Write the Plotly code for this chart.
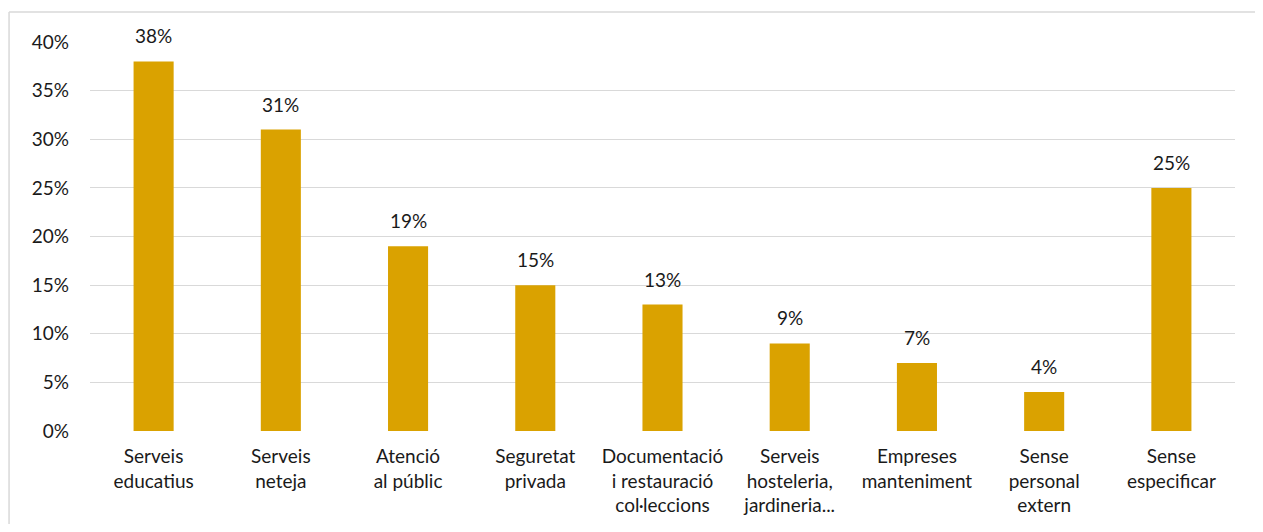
import plotly.graph_objects as go

# categories and shares
categories = [
    "Serveis<br>educatius",
    "Serveis<br>neteja",
    "Atenció<br>al públic",
    "Seguretat<br>privada",
    "Documentació<br>i restauració<br>col·leccions",
    "Serveis<br>hosteleria,<br>jardineria...",
    "Empreses<br>manteniment",
    "Sense<br>personal<br>extern",
    "Sense<br>especificar",
]
shares = [0.38, 0.31, 0.19, 0.15, 0.13, 0.09, 0.07, 0.04, 0.25]
y_ticks = [0, 0.05, 0.10, 0.15, 0.20, 0.25, 0.30, 0.35, 0.40]

bar_color = "#DAA200"
grid_color = "#D9D9D9"
font = dict(family="Lato, 'Open Sans', sans-serif", size=19, color="#1a1a1a")

fig = go.Figure()
fig.add_trace(go.Bar(x=categories, y=shares, marker=dict(color=bar_color, line_width=0),
                     hoverinfo="skip"))

# value labels above each bar
for cat, val in zip(categories, shares):
    fig.add_annotation(x=cat, y=val, text=f"{val:.0%}", showarrow=False,
                       yanchor="bottom", yshift=12, font=font)

# frame round the chart: only its left and top edges are in view
frame = dict(color=grid_color, width=1.5)
fig.add_shape(type="line", xref="paper", yref="paper",
              x0=-0.0707, x1=-0.0707, y0=-0.5, y1=1.077, line=frame, layer="below")
fig.add_shape(type="line", xref="paper", yref="paper",
              x0=-0.0707, x1=1.2, y0=1.077, y1=1.077, line=frame, layer="below")

# page body adds 8px margin on every side, keep the figure inside the window
fig.update_layout(
    width=1247, height=516,
    margin=dict(l=82, r=20, t=34, b=93),
    paper_bgcolor="white", plot_bgcolor="white",
    font=font, bargap=0.685, showlegend=False,
)
fig.update_xaxes(showline=False, ticks="", ticklabelstandoff=12, tickangle=0,
                 automargin=False)
fig.update_yaxes(range=[0, 0.4], tickvals=y_ticks, tickformat=".0%",
                 gridcolor=grid_color, gridwidth=1.3, zeroline=False,
                 showline=False, ticks="", ticklabelstandoff=20, automargin=False)

fig.write_html("out.html")
